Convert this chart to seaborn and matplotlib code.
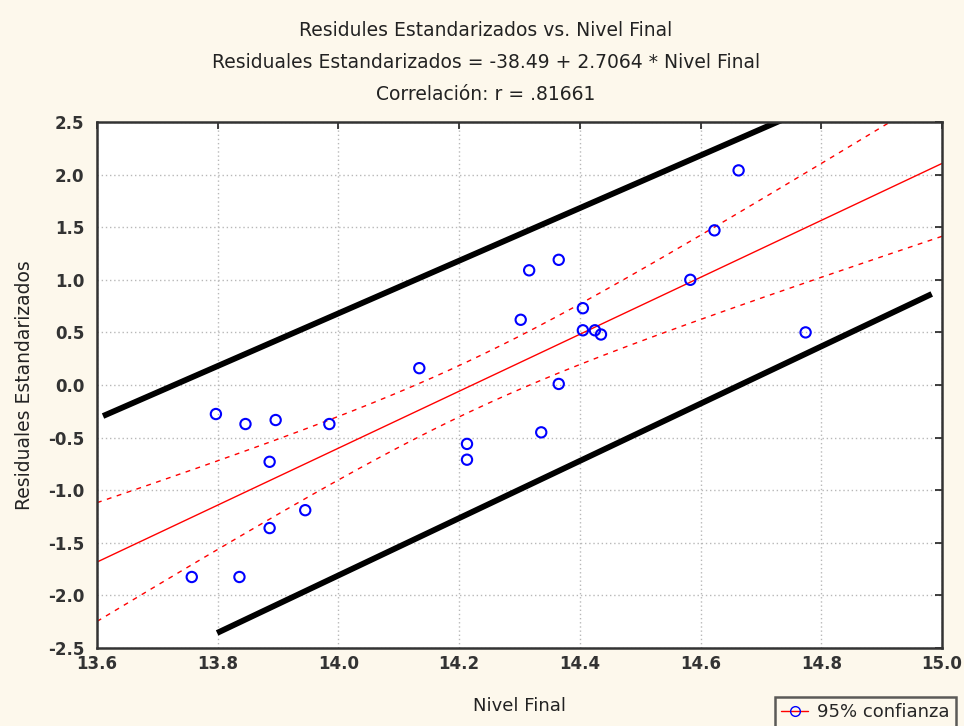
import numpy as np
import pandas as pd
import matplotlib
matplotlib.use("Agg")
import matplotlib.pyplot as plt
from matplotlib.lines import Line2D
import seaborn as sns

# ---- data ----
nivel_final = [13.757, 13.836, 13.797, 13.846, 13.896, 13.985, 13.886, 13.886,
               13.945, 14.134, 14.213, 14.213, 14.302, 14.316, 14.365, 14.365,
               14.336, 14.405, 14.405, 14.425, 14.435, 14.583, 14.623, 14.663,
               14.774]
residuales = [-1.825, -1.825, -0.276, -0.371, -0.333, -0.371, -0.73, -1.36,
              -1.19, 0.16, -0.56, -0.71, 0.62, 1.09, 1.19, 0.01,
              -0.45, 0.73, 0.52, 0.52, 0.48, 1.0, 1.47, 2.04,
              0.50]
intercept = -38.49
slope = 2.7064
t_crit = 2.069          # t(0.975, n-2)
upper_bound_x = [13.61, 14.735]
upper_bound_y = [-0.295, 2.52]
lower_bound_x = [13.799, 14.983]
lower_bound_y = [-2.357, 0.865]
x_ticks = [13.6, 13.8, 14.0, 14.2, 14.4, 14.6, 14.8, 15.0]
y_ticks = [2.5, 2.0, 1.5, 1.0, 0.5, 0.0, -0.5, -1.0, -1.5, -2.0, -2.5]
titles = ["Residules Estandarizados vs. Nivel Final",
          "Residuales Estandarizados = -38.49 + 2.7064 * Nivel Final",
          "Correlación: r = .81661"]

sns.set_style("white")
plt.rcParams['font.family'] = ['DejaVu Sans']

bg = '#fdf8ec'
txt = '#222222'
fig = plt.figure(figsize=(9.64, 7.26), dpi=100, facecolor=bg)
ax = fig.add_axes([97/964, 1-648/726, (942-97)/964, (648-122)/726])
ax.set_facecolor('white')

df = pd.DataFrame({'x': nivel_final, 'y': residuales})

# regression line + 95% confidence band
xs = np.linspace(13.6, 15.0, 200)
xarr = np.array(nivel_final)
yarr = np.array(residuales)
n = len(xarr)
yhat_pts = intercept + slope * xarr
s = np.sqrt(np.sum((yarr - yhat_pts) ** 2) / (n - 2))
xbar = xarr.mean()
sxx = np.sum((xarr - xbar) ** 2)
fit = intercept + slope * xs
half = t_crit * s * np.sqrt(1.0 / n + (xs - xbar) ** 2 / sxx)
band = pd.DataFrame({'x': xs, 'fit': fit, 'lo': fit - half, 'hi': fit + half})

sns.lineplot(data=band, x='x', y='fit', ax=ax, color='#ff0000', lw=1.0)
sns.lineplot(data=band, x='x', y='hi', ax=ax, color='#ff0000', lw=1.0,
             linestyle=(0, (3.5, 4)))
sns.lineplot(data=band, x='x', y='lo', ax=ax, color='#ff0000', lw=1.0,
             linestyle=(0, (3.5, 4)))

# thick black bounds
sns.lineplot(x=upper_bound_x, y=upper_bound_y, ax=ax, color='black', lw=4.2,
             solid_capstyle='butt')
sns.lineplot(x=lower_bound_x, y=lower_bound_y, ax=ax, color='black', lw=4.2,
             solid_capstyle='butt')

sns.scatterplot(data=df, x='x', y='y', ax=ax, marker='o', s=55,
                facecolor='none', edgecolor='#0000ff', linewidth=1.5, zorder=5)

ax.set_xlim(13.6, 15.0)
ax.set_ylim(-2.5, 2.5)
ax.set_xticks(x_ticks)
ax.set_yticks(y_ticks)
ax.set_xticklabels([f"{v:.1f}" for v in x_ticks])
ax.set_yticklabels([f"{v:.1f}" for v in y_ticks])
ax.grid(True, color='#b8b8b8', linestyle=(0, (1, 2)), lw=1.0)
ax.tick_params(direction='in', length=5, width=1.2, colors='#202020',
               labelsize=12, top=True, right=True)
ax.tick_params(axis='x', pad=5)
ax.tick_params(axis='y', pad=9)
for lab in ax.get_xticklabels() + ax.get_yticklabels():
    lab.set_color('#333333')
    lab.set_fontweight('bold')
for sp in ax.spines.values():
    sp.set_color('#333333')
    sp.set_linewidth(1.8)
    sp.set_visible(True)

ax.set_xlabel("Nivel Final", fontsize=13, color=txt, labelpad=17)
ax.set_ylabel("Residuales Estandarizados", fontsize=13.5, color=txt,
              labelpad=10)

for i, t in enumerate(titles):
    fig.text(486/964, 1 - (30 + 32*i)/726, t, ha='center', va='center',
             fontsize=13.5, color=txt)

handle = Line2D([0], [0], color='#ff0000', lw=1.0, marker='o',
                markerfacecolor='none', markeredgecolor='#0000ff',
                markersize=7)
leg = fig.legend([handle], ["95% confianza"], loc='upper left',
                 bbox_to_anchor=(775/964, 1 - 697/726), frameon=True,
                 fancybox=False, fontsize=13, handlelength=1.5,
                 borderpad=0.35, handletextpad=0.5, borderaxespad=0)
leg.get_frame().set_edgecolor('#333333')
leg.get_frame().set_linewidth(1.8)
leg.get_frame().set_facecolor(bg)

fig.savefig("out.png", dpi=100, facecolor=bg)
